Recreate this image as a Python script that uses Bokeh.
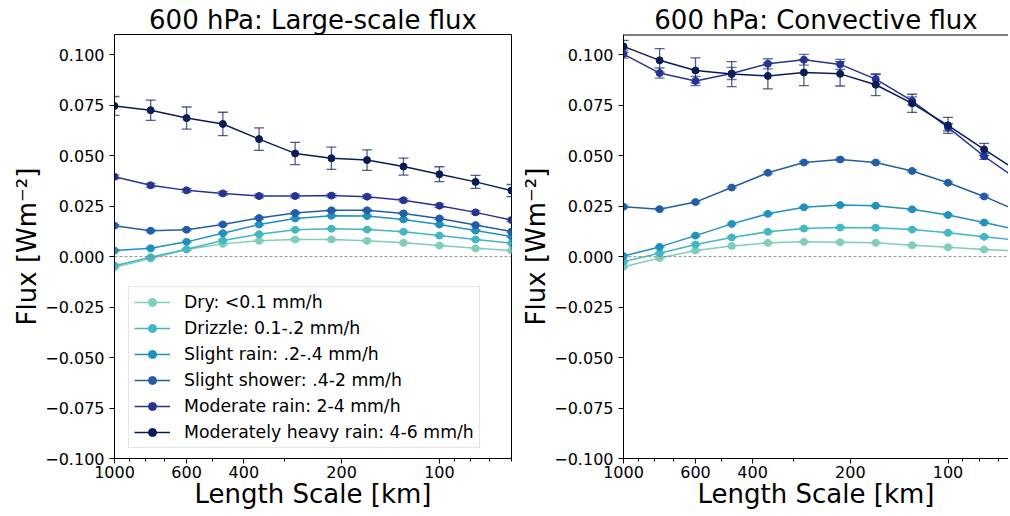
import numpy as np
from bokeh.plotting import figure
from bokeh.models import (Range1d, FixedTicker, CustomJSTickFormatter, Span, Whisker, TeeHead,
                          ColumnDataSource, Legend, LegendItem)
from bokeh.layouts import row
from bokeh.embed import file_html
from bokeh.resources import INLINE

# ---------------- data ----------------
length_km = [1000, 774, 600, 464, 359, 278, 215, 167, 129, 100, 77.4, 60]

labels = ["Dry: <0.1 mm/h", "Drizzle: 0.1-.2 mm/h", "Slight rain: .2-.4 mm/h",
          "Slight shower: .4-2 mm/h", "Moderate rain: 2-4 mm/h",
          "Moderately heavy rain: 4-6 mm/h"]
colors = ["#7fcdbb", "#41b6c4", "#1d91c0", "#225ea8", "#253494", "#081d58"]

# Large-scale flux
ls_dry = [-0.0053, -0.0010, 0.0035, 0.0063, 0.0078, 0.0085, 0.0085, 0.0078, 0.0068, 0.0055, 0.0041, 0.0030]
ls_drizzle = [-0.0045, -0.0003, 0.0036, 0.0080, 0.0111, 0.0133, 0.0138, 0.0134, 0.0123, 0.0104, 0.0085, 0.0066]
ls_slight_rain = [0.0030, 0.0041, 0.0073, 0.0116, 0.0159, 0.0189, 0.0202, 0.0201, 0.0184, 0.0159, 0.0129, 0.0099]
ls_slight_shower = [0.0153, 0.0128, 0.0133, 0.0159, 0.0191, 0.0216, 0.0229, 0.0229, 0.0214, 0.0189, 0.0156, 0.0124]
ls_moderate = [0.0395, 0.0353, 0.0328, 0.0313, 0.0300, 0.0300, 0.0302, 0.0297, 0.0279, 0.0252, 0.0219, 0.0181]
ls_heavy = [0.0746, 0.0725, 0.0686, 0.0657, 0.0582, 0.0511, 0.0487, 0.0478, 0.0446, 0.0408, 0.0370, 0.0327]

ls_err_dry = [0.0004] * 12
ls_err_drizzle = [0.0004] * 12
ls_err_slight_rain = [0.0004] * 12
ls_err_slight_shower = [0.0005] * 12
ls_err_moderate = [0.0010, 0.0009, 0.0009, 0.0009, 0.0009, 0.0009, 0.0009, 0.0009, 0.0008, 0.0008, 0.0007, 0.0007]
ls_err_heavy = [0.0047, 0.0050, 0.0055, 0.0058, 0.0056, 0.0055, 0.0055, 0.0051, 0.0042, 0.0037, 0.0032, 0.0030]

# Convective flux
cv_dry = [-0.0050, -0.0007, 0.0030, 0.0053, 0.0068, 0.0073, 0.0071, 0.0068, 0.0056, 0.0046, 0.0035, 0.0027]
cv_drizzle = [-0.0025, 0.0017, 0.0060, 0.0095, 0.0123, 0.0139, 0.0144, 0.0143, 0.0134, 0.0118, 0.0098, 0.0080]
cv_slight_rain = [0.0003, 0.0048, 0.0104, 0.0162, 0.0212, 0.0244, 0.0255, 0.0252, 0.0234, 0.0206, 0.0169, 0.0129]
cv_slight_shower = [0.0247, 0.0235, 0.0270, 0.0342, 0.0415, 0.0466, 0.0481, 0.0466, 0.0424, 0.0366, 0.0298, 0.0221]
cv_moderate = [0.1003, 0.0909, 0.0870, 0.0907, 0.0955, 0.0975, 0.0952, 0.0879, 0.0771, 0.0640, 0.0497, 0.0373]
cv_heavy = [0.1041, 0.0972, 0.0922, 0.0904, 0.0895, 0.0912, 0.0905, 0.0851, 0.0759, 0.0650, 0.0531, 0.0415]

cv_err_dry = [0.0004] * 12
cv_err_drizzle = [0.0004] * 12
cv_err_slight_rain = [0.0004] * 12
cv_err_slight_shower = [0.0005] * 12
cv_err_moderate = [0.0020, 0.0025, 0.0023, 0.0030, 0.0025, 0.0027, 0.0025, 0.0023, 0.0020, 0.0018, 0.0015, 0.0014]
cv_err_heavy = [0.0030, 0.0058, 0.0062, 0.0062, 0.0064, 0.0065, 0.0060, 0.0054, 0.0045, 0.0040, 0.0030, 0.0028]

x_major = [1000, 600, 400, 200, 100]
x_minor = [900, 800, 700, 500, 300, 90, 80, 70, 60]
y_major = [-0.1, -0.075, -0.05, -0.025, 0.0, 0.025, 0.05, 0.075, 0.1]

FONT = "DejaVu Sans"


def make_panel(title, series, errors, frame_w, border_left, border_right, x_end, with_legend, outline):
    p = figure(frame_width=frame_w, frame_height=424, x_axis_type="log",
               x_range=Range1d(1000, x_end), y_range=Range1d(-0.1, 0.11),
               output_backend="svg", toolbar_location=None,
               min_border_left=border_left, min_border_right=border_right,
               min_border_top=34, min_border_bottom=56)
    p.background_fill_color = "white"
    p.border_fill_color = "white"
    p.grid.visible = False
    if outline:
        p.outline_line_color = "black"
        p.outline_line_width = 1
    else:
        p.outline_line_color = None
        p.add_layout(Span(location=0.11, dimension="width", line_color="black", line_width=2))

    p.title.text = title
    p.title.align = "center"
    p.title.text_font = FONT
    p.title.text_font_size = "26px"
    p.title.text_font_style = "normal"
    p.title.text_color = "black"
    p.title.standoff = -1

    for ax in (p.xaxis[0], p.yaxis[0]):
        ax.axis_line_color = "black"
        ax.major_tick_line_color = "black"
        ax.minor_tick_line_color = "black"
        ax.major_tick_out = 5
        ax.major_tick_in = 0
        ax.minor_tick_out = 3
        ax.minor_tick_in = 0
        ax.major_label_text_font = FONT
        ax.major_label_text_font_size = "16px"
        ax.major_label_text_color = "black"
        ax.axis_label_text_font = FONT
        ax.axis_label_text_font_size = "26px"
        ax.axis_label_text_font_style = "normal"
        ax.axis_label_text_color = "black"

    p.xaxis.ticker = FixedTicker(ticks=x_major, minor_ticks=x_minor)
    p.xaxis.formatter = CustomJSTickFormatter(code="return Math.round(tick).toString();")
    p.xaxis.axis_label = "Length Scale [km]"
    p.xaxis.major_label_standoff = 2
    p.xaxis.axis_label_standoff = -2

    p.yaxis.ticker = FixedTicker(ticks=y_major, minor_ticks=[])
    p.yaxis.formatter = CustomJSTickFormatter(code="return tick.toFixed(3).replace('-', '\u2212');")
    p.yaxis.axis_label = "Flux [Wm\u207b\u00b2]"
    p.yaxis.major_label_standoff = 5
    p.yaxis.axis_label_standoff = 0

    p.add_layout(Span(location=0, dimension="width", line_color="#888888",
                      line_width=0.9, line_dash="3 2"))

    items = []
    for lab, col, ys, es in zip(labels, colors, series, errors):
        src = ColumnDataSource(dict(x=length_km, y=ys,
                                    lo=[a - b for a, b in zip(ys, es)],
                                    hi=[a + b for a, b in zip(ys, es)]))
        w = Whisker(base="x", upper="hi", lower="lo", source=src, dimension="height",
                    line_color=col, line_alpha=0.7, line_width=1.3,
                    upper_head=TeeHead(size=10, line_color=col, line_alpha=0.7, line_width=1.3),
                    lower_head=TeeHead(size=10, line_color=col, line_alpha=0.7, line_width=1.3))
        p.add_layout(w)
        lr = p.line("x", "y", source=src, line_color=col, line_width=1.5)
        sr = p.scatter("x", "y", source=src, marker="circle", size=7,
                       fill_color=col, line_color=col)
        bar = p.scatter(x=[], y=[], marker="dash", angle=np.pi / 2, size=18,
                        line_color=col, line_alpha=0.7, line_width=1.5)
        items.append(LegendItem(label=lab, renderers=[lr, bar, sr]))

    if with_legend:
        leg = Legend(items=items, location=(14, 10))
        leg.label_text_font = FONT
        leg.label_text_font_size = "17.3px"
        leg.label_text_color = "black"
        leg.glyph_width = 36
        leg.glyph_height = 20
        leg.label_height = 20
        leg.spacing = 6
        leg.padding = 5
        leg.margin = 0
        leg.label_standoff = 14
        leg.border_line_color = "#cccccc"
        leg.border_line_width = 1
        leg.background_fill_alpha = 0.8
        p.add_layout(leg, "center")
    return p


p1 = make_panel("600 hPa: Large-scale flux",
                [ls_dry, ls_drizzle, ls_slight_rain, ls_slight_shower, ls_moderate, ls_heavy],
                [ls_err_dry, ls_err_drizzle, ls_err_slight_rain, ls_err_slight_shower, ls_err_moderate, ls_err_heavy],
                frame_w=397, border_left=114, border_right=7, x_end=60, with_legend=True, outline=True)
p2 = make_panel("600 hPa: Convective flux",
                [cv_dry, cv_drizzle, cv_slight_rain, cv_slight_shower, cv_moderate, cv_heavy],
                [cv_err_dry, cv_err_drizzle, cv_err_slight_rain, cv_err_slight_shower, cv_err_moderate, cv_err_heavy],
                frame_w=385, border_left=105, border_right=0, x_end=65.1, with_legend=False, outline=False)

layout = row(p1, p2)
open("out.html", "w").write(file_html(layout, INLINE))
